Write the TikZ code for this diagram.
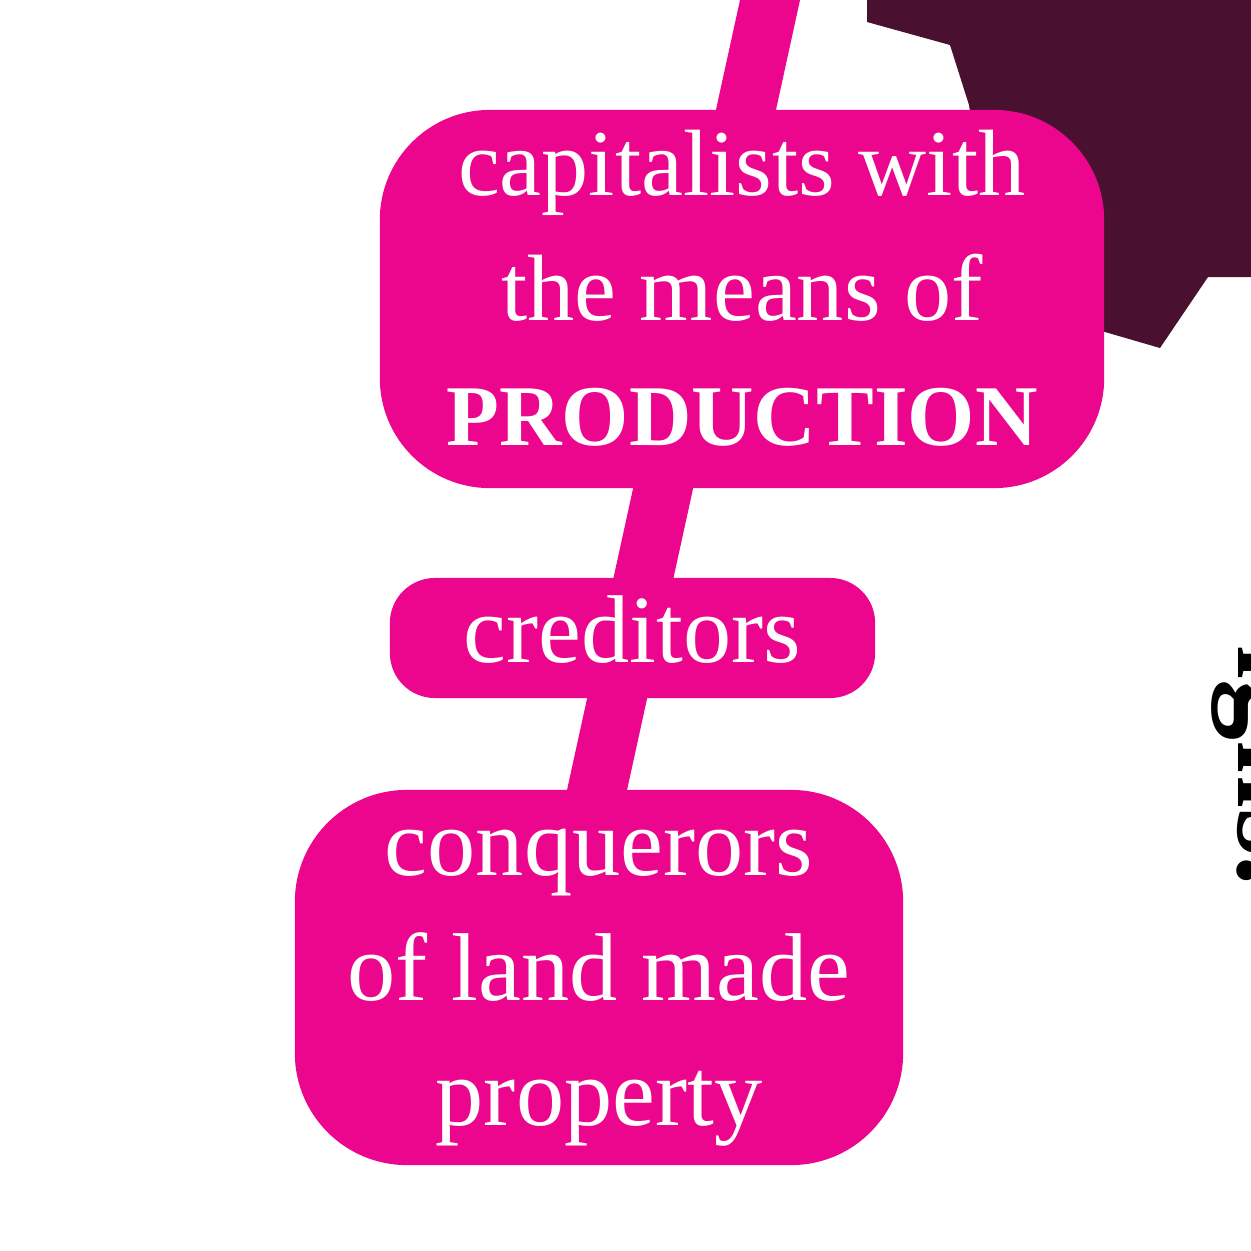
\documentclass[tikz,border=0pt]{standalone}
\usepackage{fontspec}
\setmainfont{Liberation Serif}
\definecolor{mmpink}{HTML}{EC068D}
\definecolor{mmdark}{HTML}{4A1030}
\begin{document}
\begin{tikzpicture}[x=0.01cm,y=-0.01cm,
  pinkbox/.style={fill=mmpink, text=white, align=center, inner sep=0pt,
    font=\fontsize{26.8}{35.56}\selectfont},
  conn/.style={draw=mmpink, line width=0.586cm, line cap=butt}]
\useasboundingbox (0,0) rectangle (1251,1251);
% dark polygon top right
\fill[mmdark] (867,-30) -- (867,22) -- (950,45) -- (969,105) -- (1000,300)
  -- (1105,332) -- (1160,348) -- (1208,277) -- (1280,277) -- (1280,-30) -- cycle;
% connector
\coordinate (ctop) at (774.4,-20);
\coordinate (cbot) at (583.9,850);
\draw[conn] (ctop) -- (cbot);
% boxes
\node[pinkbox, minimum width=7.24cm, minimum height=3.78cm, rounded corners=1.1cm]
  (cap) at (742,299) {capitalists with\\the means of\\{\fontsize{24.6}{35.56}\selectfont\bfseries PRODUCTION}\rule[-2.2mm]{0pt}{2.2mm}};
\node[pinkbox, minimum width=4.85cm, minimum height=1.2cm, rounded corners=0.45cm,
  font=\fontsize{27.4}{35.56}\selectfont]
  (cred) at (632.5,638) {creditors\rule[-1.7mm]{0pt}{1.7mm}};
\node[pinkbox, minimum width=6.08cm, minimum height=3.75cm, rounded corners=1.12cm,
  font=\fontsize{27.4}{35.56}\selectfont]
  (conq) at (599,977.5) {\rule{0pt}{6.6mm}conquerors\\of land made\\property};
% right-edge rotated text
\node[rotate=-90, anchor=base west, inner sep=0pt,
  font=\fontsize{34.7}{40}\selectfont\bfseries] (side) at (1238,645) {igns.};
\end{tikzpicture}
\end{document}
